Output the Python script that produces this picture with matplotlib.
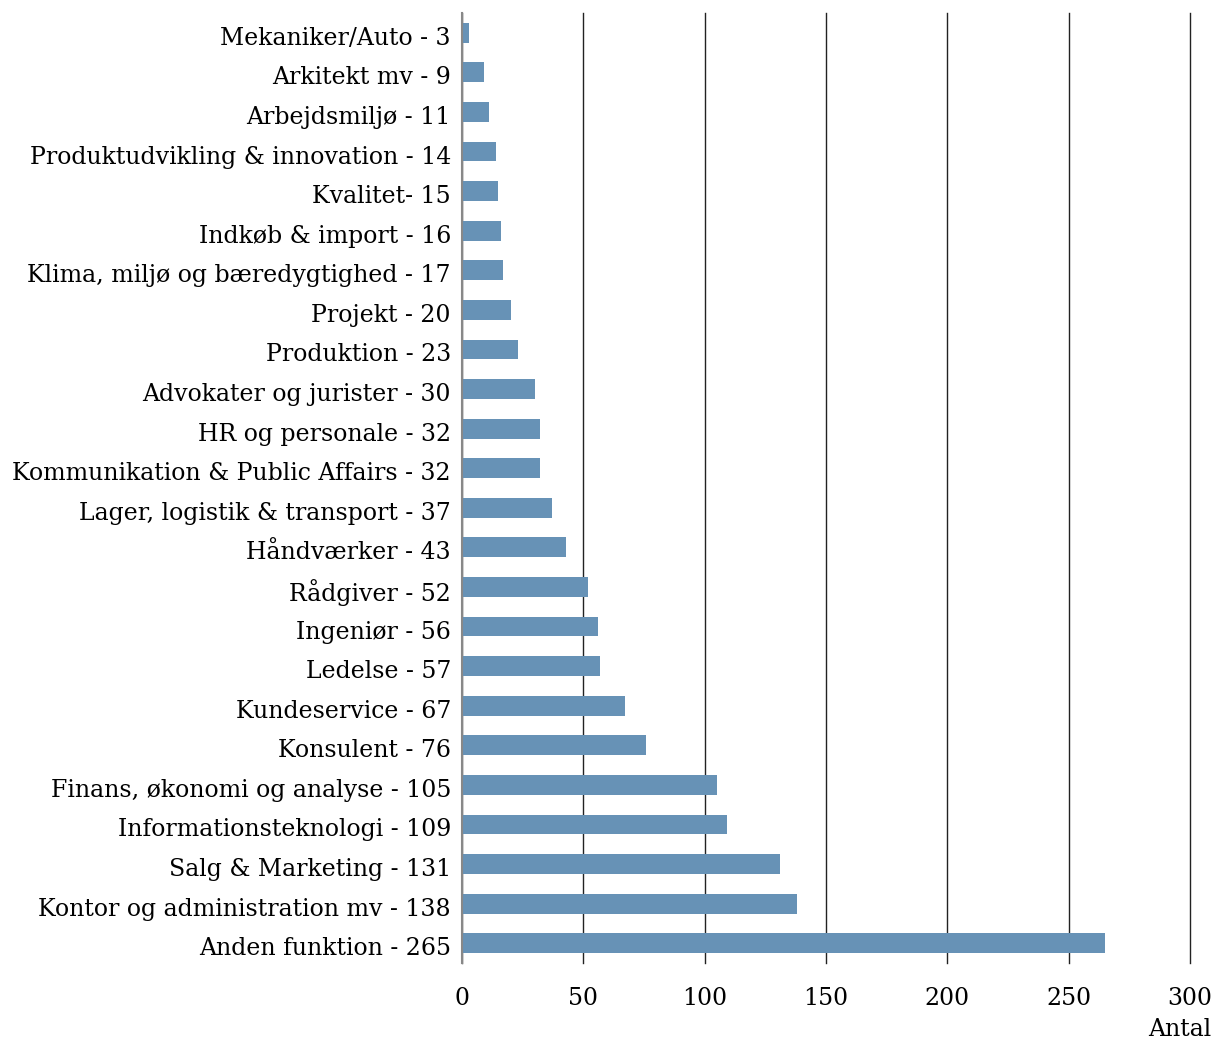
import matplotlib
matplotlib.use("Agg")
import matplotlib.pyplot as plt
import matplotlib.transforms as mtransforms

categories = [
    "Mekaniker/Auto - 3", "Arkitekt mv - 9", "Arbejdsmiljø - 11",
    "Produktudvikling & innovation - 14", "Kvalitet- 15", "Indkøb & import - 16",
    "Klima, miljø og bæredygtighed - 17", "Projekt - 20", "Produktion - 23",
    "Advokater og jurister - 30", "HR og personale - 32",
    "Kommunikation & Public Affairs - 32", "Lager, logistik & transport - 37",
    "Håndværker - 43", "Rådgiver - 52", "Ingeniør - 56", "Ledelse - 57",
    "Kundeservice - 67", "Konsulent - 76", "Finans, økonomi og analyse - 105",
    "Informationsteknologi - 109", "Salg & Marketing - 131",
    "Kontor og administration mv - 138", "Anden funktion - 265",
]
values = [3, 9, 11, 14, 15, 16, 17, 20, 23, 30, 32, 32, 37, 43, 52, 56, 57, 67,
          76, 105, 109, 131, 138, 265]
xticks = [0, 50, 100, 150, 200, 250, 300]

plt.rcParams['font.family'] = ['DejaVu Serif']

fig = plt.figure(figsize=(12.16, 10.41), dpi=100)
ax = fig.add_axes([462/1216, 1-963/1041, 728/1216, 950/1041])

ypos = list(range(len(categories)))
ax.barh(ypos, values, height=0.5, color="#6792b6", zorder=3)
ax.set_yticks(ypos)
ax.set_yticklabels(categories, fontsize=17)
ax.set_ylim(len(categories)-0.5, -0.5)
ax.set_xlim(0, 300)
ax.set_xticks(xticks)
ax.set_xticklabels([str(t) for t in xticks], fontsize=17)
ax.grid(axis='x', color='#222222', linewidth=1.0, zorder=0)
for gl in ax.get_xgridlines():
    gl.set_clip_on(False)
for s in ['top', 'right', 'bottom']:
    ax.spines[s].set_visible(False)
ax.spines['left'].set_color('#888888')
ax.spines['left'].set_linewidth(1.5)
ax.spines['left'].set_zorder(4)
ax.tick_params(axis='both', length=0)
ax.tick_params(axis='x', pad=17)
ax.tick_params(axis='y', pad=8)
shift = mtransforms.ScaledTranslation(0, -3/100, fig.dpi_scale_trans)
for lbl in ax.get_yticklabels():
    lbl.set_transform(lbl.get_transform() + shift)
fig.text(1180/1216, 1-1030/1041, "Antal", ha='center', va='center', fontsize=17)

fig.savefig("out.png", dpi=100)
